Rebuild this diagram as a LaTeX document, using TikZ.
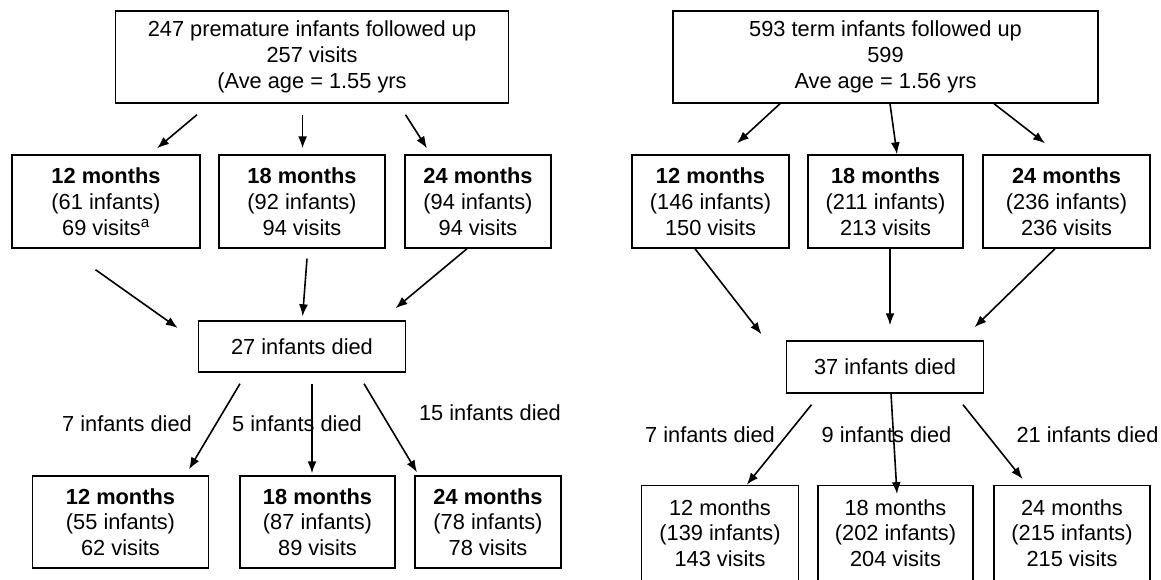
\documentclass[tikz,border=0pt]{standalone}
\usepackage{fontspec}
\setmainfont{Liberation Sans}
\usepackage{tikz}
\usetikzlibrary{positioning}
\usetikzlibrary{arrows.meta}
\usetikzlibrary{calc}

\tikzset{
  box/.style={draw, line width=1.4pt, align=center, inner sep=0pt},
  arr/.style={line width=1.6pt, -{Latex[length=12pt,width=9pt]}},
  lbl/.style={inner sep=0pt},
}

\begin{document}
\begin{tikzpicture}[x=1pt,y=-1pt,every node/.style={font=\fontsize{21.8}{25.8}\selectfont}]
	%% page frame
	\useasboundingbox (0,0) rectangle (1161,579);

	%% premature infants (left)
	\node[box, minimum width=393, minimum height=92] (tl) at (312,57)
		{247 premature infants followed up\\257 visits\\(Ave age = 1.55 yrs};

	\node[box, minimum width=188, minimum height=93] (l12) at (106,201.5)
		{\textbf{12 months}\\(61 infants)\\69 visits\textsuperscript{a}};
	\node[box, minimum width=166, minimum height=93] (l18) at (302,201.5)
		{\textbf{18 months}\\(92 infants)\\94 visits};
	\node[box, minimum width=146, minimum height=93] (l24) at (478,201.5)
		{\textbf{24 months}\\(94 infants)\\94 visits};

	\node[box, minimum width=207, minimum height=51] (ld) at (302,346.5) {27 infants died};

	\node[box, minimum width=176, minimum height=92] (lb12) at (120.5,522)
		{\textbf{12 months}\\(55 infants)\\62 visits};
	\node[box, minimum width=155, minimum height=92] (lb18) at (317.5,522)
		{\textbf{18 months}\\(87 infants)\\89 visits};
	\node[box, minimum width=146, minimum height=92] (lb24) at (488,522)
		{\textbf{24 months}\\(78 infants)\\78 visits};

	\node[lbl] (ll12) at (127,424) {7 infants died};
	\node[lbl] (ll18) at (297,424) {5 infants died};
	\node[lbl] (ll24) at (490,413) {15 infants died};

	\draw[arr] ($(tl.south)+(-115,11)$) -- ($(l12.north)+(51,-6)$);
	\draw[arr] ($(tl.south)+(-9.4,11)$) -- ($(l18.north)+(0.6,-6)$);
	\draw[arr] ($(tl.south)+(93.5,11)$) -- ($(l24.north)+(-51,-6)$);

	\draw[arr] ($(l12.south)+(-10.5,21)$) -- ($(ld.west)+(-20,-18.5)$);
	\draw[arr] ($(l18.south)+(5,10)$) -- ($(ld.north)+(0.6,-4)$);
	\draw[arr] ($(l24.south)+(-11,0)$) -- ($(ld.north)+(93.5,-12)$);

	\draw[arr] ($(ld.south)+(-62,11)$) -- ($(lb12.north)+(68.5,-6)$);
	\draw[arr] ($(ld.south)+(10,11)$) -- ($(lb18.north)+(-5.5,-2)$);
	\draw[arr] ($(ld.south)+(62,11)$) -- ($(lb24.north)+(-71,-3)$);

	%% term infants (right)
	\node[box, minimum width=425, minimum height=92] (tr) at (885.5,57)
		{593 term infants followed up\\599\\Ave age = 1.56 yrs};

	\node[box, minimum width=157, minimum height=93] (r12) at (710.5,201.5)
		{\textbf{12 months}\\(146 infants)\\150 visits};
	\node[box, minimum width=155, minimum height=93] (r18) at (885.5,201.5)
		{\textbf{18 months}\\(211 infants)\\213 visits};
	\node[box, minimum width=167, minimum height=93] (r24) at (1066.5,201.5)
		{\textbf{24 months}\\(236 infants)\\236 visits};

	\node[box, minimum width=197, minimum height=52] (rd) at (885,367) {37 infants died};

	\node[box, minimum width=156.5, minimum height=95] (rb12) at (720,533)
		{12 months\\(139 infants)\\143 visits};
	\node[box, minimum width=155, minimum height=95] (rb18) at (895.5,533)
		{18 months\\(202 infants)\\204 visits};
	\node[box, minimum width=156, minimum height=95] (rb24) at (1072,533)
		{24 months\\(215 infants)\\215 visits};

	\node[lbl] (rl12) at (710,435) {7 infants died};
	\node[lbl] (rl18) at (886.5,435) {9 infants died};
	\node[lbl] (rl24) at (1087.5,435) {21 infants died};

	\draw[arr] ($(tr.south)+(-105.5,0)$) -- ($(r12.north)+(26.5,-11)$);
	\draw[arr] ($(tr.south)+(4.5,0)$) -- ($(r18.north)+(11.5,0)$);
	\draw[arr] ($(tr.south)+(108.5,0)$) -- ($(r24.north)+(-21.5,-11)$);

	\draw[arr] ($(r12.south)+(-15.5,0)$) -- ($(rd.north)+(-123.5,-6)$);
	\draw[arr] ($(r18.south)+(4.5,0)$) -- ($(rd.north)+(5,-15)$);
	\draw[arr] ($(r24.south)+(-11.5,0)$) -- ($(rd.north)+(89.5,-13)$);

	\draw[arr] ($(rd.south)+(-73.5,11)$) -- ($(rb12.north)+(26.7,0)$);
	\draw[arr] ($(rd.south)+(6,0)$) -- ($(rb18.north)+(1.5,9.3)$);
	\draw[arr] ($(rd.south)+(78,11)$) -- ($(rb24.north)+(-49.4,-5.7)$);
\end{tikzpicture}
\end{document}
